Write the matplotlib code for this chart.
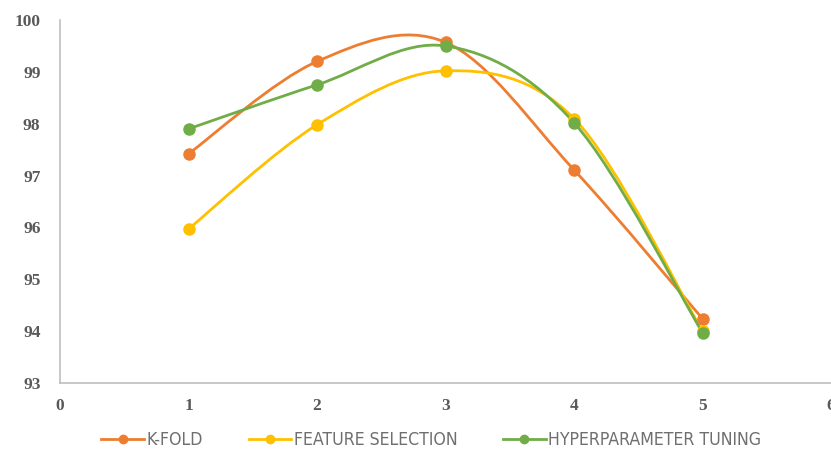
import matplotlib
matplotlib.use("Agg")
import matplotlib.pyplot as plt
from matplotlib.path import Path
from matplotlib.patches import PathPatch
from matplotlib.lines import Line2D

folds = [1, 2, 3, 4, 5]
kfold = [97.42, 99.2, 99.57, 97.11, 94.24]
feature_sel = [95.97, 97.98, 99.02, 98.1, 94.0]
hyper_tuning = [97.9, 98.75, 99.5, 98.02, 93.97]

series = [
    ("K-FOLD", kfold, "#ED7D31"),
    ("FEATURE SELECTION", feature_sel, "#FFC000"),
    ("HYPERPARAMETER TUNING", hyper_tuning, "#70AD47"),
]


def smooth_path(xs, ys):
    # cubic bezier through the points, spreadsheet-style smoothing
    pts = list(zip(xs, ys))
    n = len(pts)
    verts = [pts[0]]
    codes = [Path.MOVETO]
    for i in range(n - 1):
        p0 = pts[i - 1] if i > 0 else pts[i]
        p1 = pts[i]
        p2 = pts[i + 1]
        p3 = pts[i + 2] if i + 2 < n else pts[i + 1]
        c1 = (p1[0] + (p2[0] - p0[0]) / 6, p1[1] + (p2[1] - p0[1]) / 6)
        c2 = (p2[0] - (p3[0] - p1[0]) / 6, p2[1] - (p3[1] - p1[1]) / 6)
        verts += [c1, c2, p2]
        codes += [Path.CURVE4] * 3
    return Path(verts, codes)


fig = plt.figure(figsize=(8.31, 4.55), dpi=100)
ax = fig.add_axes([60 / 831, 1 - 383 / 455, 1 - 60 / 831, (383 - 20) / 455])

handles = []
for name, vals, col in series:
    patch = PathPatch(smooth_path(folds, vals), facecolor="none",
                      edgecolor=col, lw=2.0, zorder=2)
    ax.add_patch(patch)
    ax.plot(folds, vals, "o", color=col, ms=8, zorder=3)
    handles.append(Line2D([], [], color=col, lw=2.0, marker="o", ms=6,
                          label=name))

ax.set_xlim(0, 6)
ax.set_ylim(93, 100)
ax.set_xticks(range(0, 7))
ax.set_yticks(range(93, 101))
for s in ("top", "right"):
    ax.spines[s].set_visible(False)
for s in ("left", "bottom"):
    ax.spines[s].set_color("#bfbfbf")
    ax.spines[s].set_linewidth(1.2)
ax.tick_params(axis="y", length=0, pad=14, labelsize=12.5, labelcolor="#595959")
ax.tick_params(axis="x", length=0, pad=11, labelsize=12.5, labelcolor="#595959")
for lab in ax.get_xticklabels() + ax.get_yticklabels():
    lab.set_family(["Liberation Serif", "DejaVu Serif"])
    lab.set_fontweight("bold")

fig.legend(handles=handles, loc="center", bbox_to_anchor=(0.519, 0.033),
           ncol=3, frameon=False, handlelength=2.4, columnspacing=2.6,
           handletextpad=0.15,
           prop={"family": ["Liberation Sans Narrow", "DejaVu Sans"],
                 "size": 12.7, "stretch": "condensed"})
for t in fig.legends[0].get_texts():
    t.set_color("#6f6f6f")

fig.savefig("out.png", dpi=100)
